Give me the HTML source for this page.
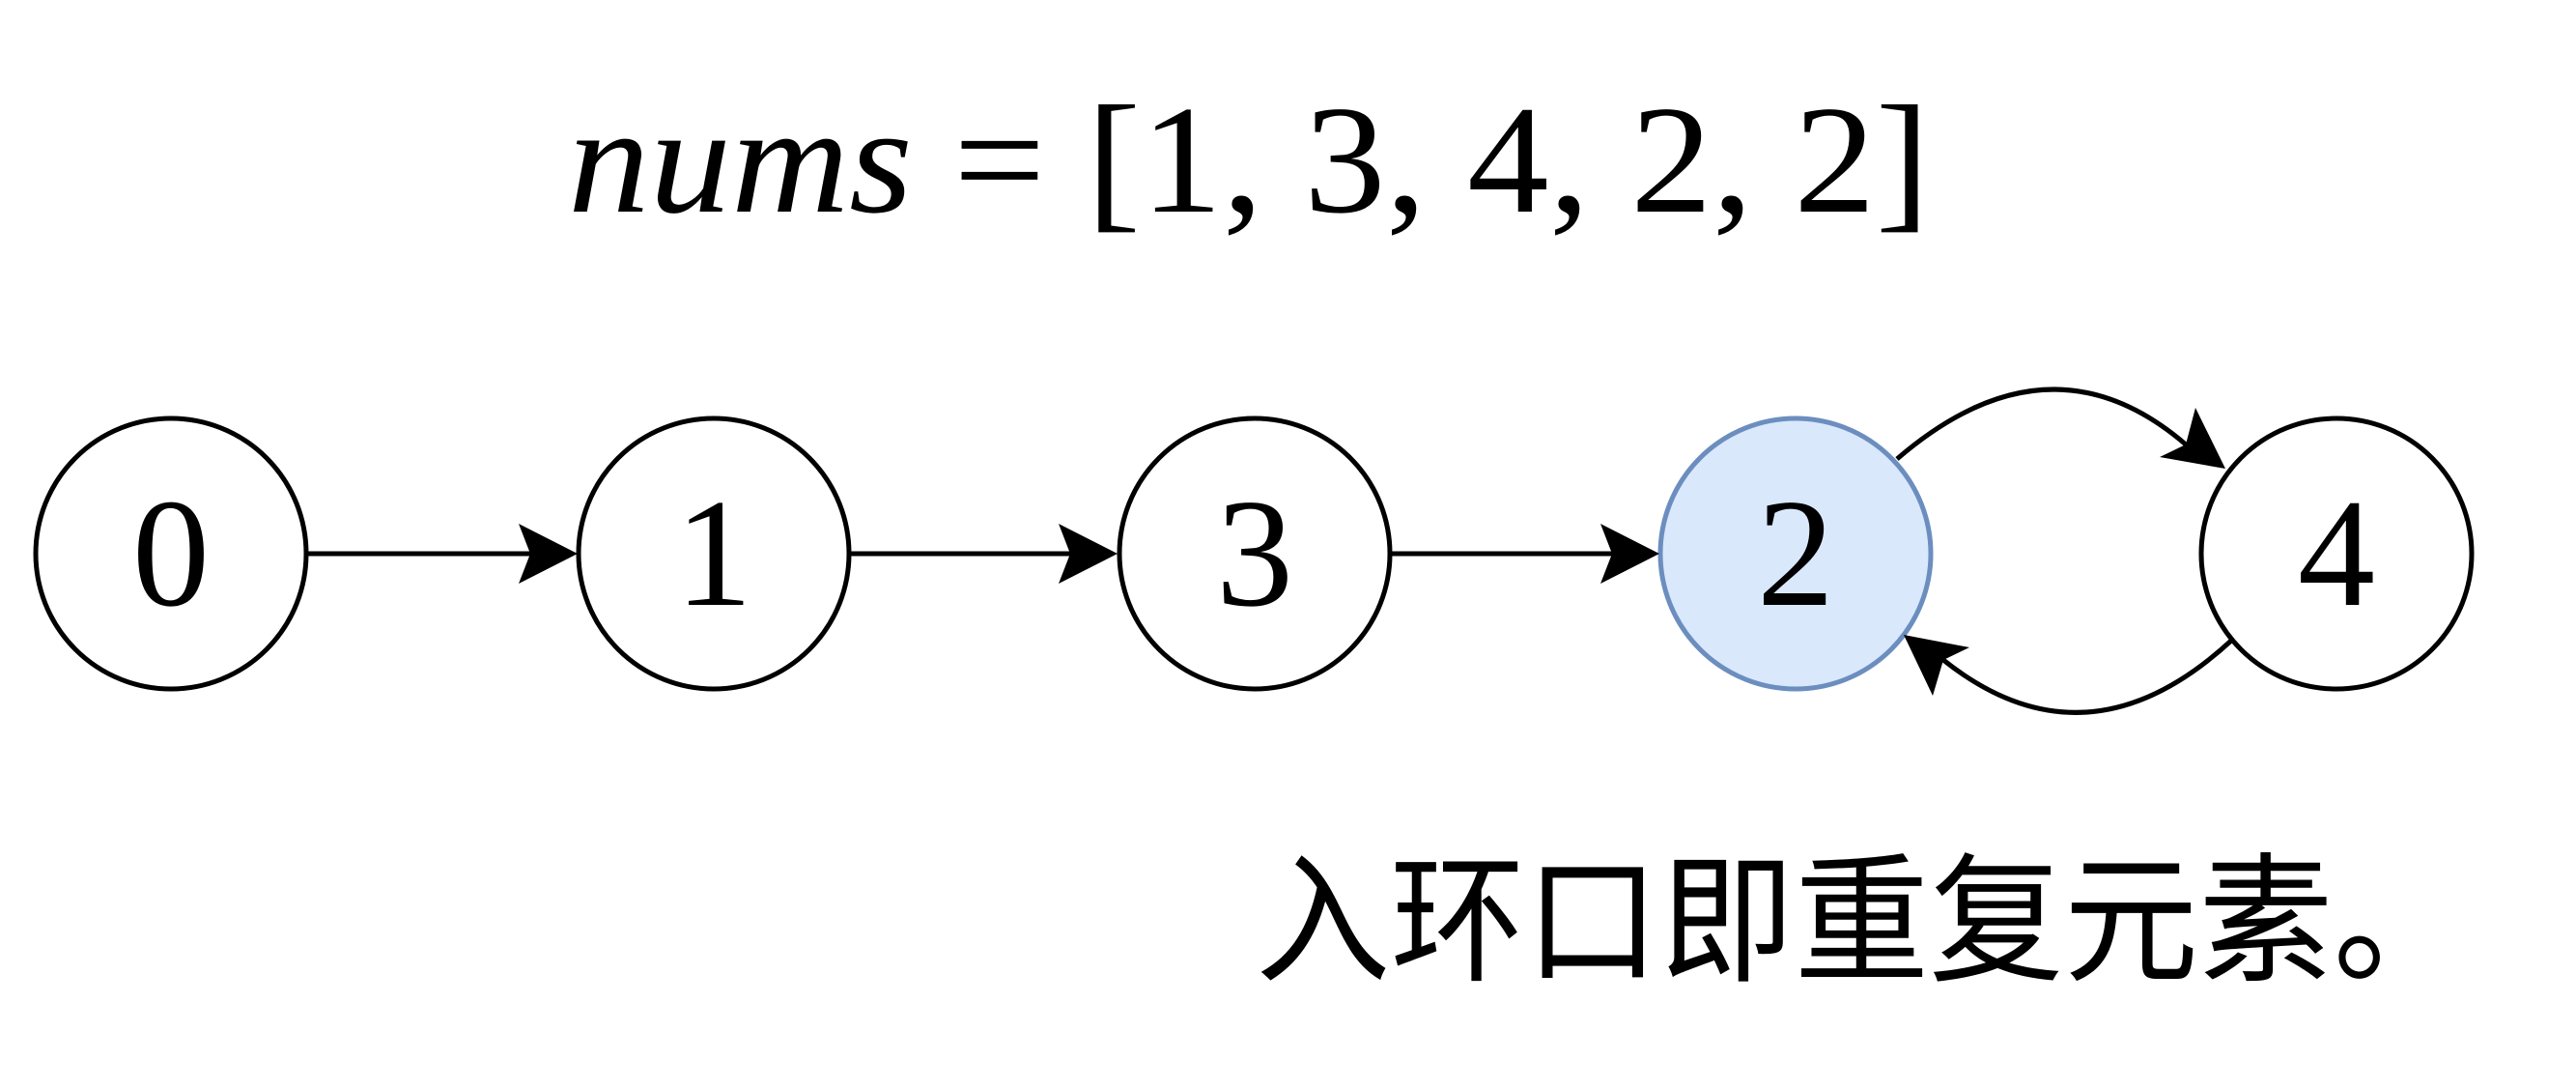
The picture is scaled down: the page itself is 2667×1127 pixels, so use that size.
<!DOCTYPE html>
<html><head><meta charset="utf-8"><style>html,body{margin:0;padding:0;background:#fff;}svg{display:block}</style></head>
<body>
<svg width="2667" height="1127" viewBox="0 0 2667 1127" xmlns="http://www.w3.org/2000/svg">
<rect width="2667" height="1127" fill="#fff"/>
<text x="588" y="219" font-family="Liberation Serif, serif" font-size="160" textLength="1410" lengthAdjust="spacingAndGlyphs"><tspan font-style="italic">nums</tspan> = [1, 3, 4, 2, 2]</text>
<g stroke="#000" stroke-width="5" fill="#fff">
<circle cx="177" cy="573" r="140"/>
<circle cx="739" cy="573" r="140"/>
<circle cx="1299" cy="573" r="140"/>
<circle cx="1859" cy="573" r="140" fill="#dae8fc" stroke="#6c8ebf"/>
<circle cx="2419" cy="573" r="140"/>
</g>
<g stroke="#000" stroke-width="5" fill="none">
<line x1="317" y1="573" x2="555" y2="573"/>
<line x1="879" y1="573" x2="1112" y2="573"/>
<line x1="1439" y1="573" x2="1672" y2="573"/>
<path d="M1964,475 Q2122,339 2263,460"/>
<path d="M2310,663 Q2160,801 2012,683"/>
</g>
<g fill="#000">
<polygon points="598,573 537,542 549,573 537,604"/>
<polygon points="1157,573 1096,542 1108,573 1096,604"/>
<polygon points="1718,573 1657,542 1669,573 1657,604"/>
<polygon points="2304,485 2273,422 2263,460 2236,473"/>
<polygon points="1971,657 2039,670 2012,683 2001,720"/>
</g>
<g font-family="Liberation Serif, serif" font-size="160" text-anchor="middle">
<text x="177" y="626">0</text>
<text x="739" y="626">1</text>
<text x="1299" y="626">3</text>
<text x="1859" y="626">2</text>
<text x="2419" y="626">4</text>
</g>
<text x="1300" y="1004" font-family="Liberation Sans, Noto Sans CJK SC, sans-serif" font-size="145" textLength="1255" lengthAdjust="spacingAndGlyphs">入环口即重复元素。</text>
</svg>
</body></html>
